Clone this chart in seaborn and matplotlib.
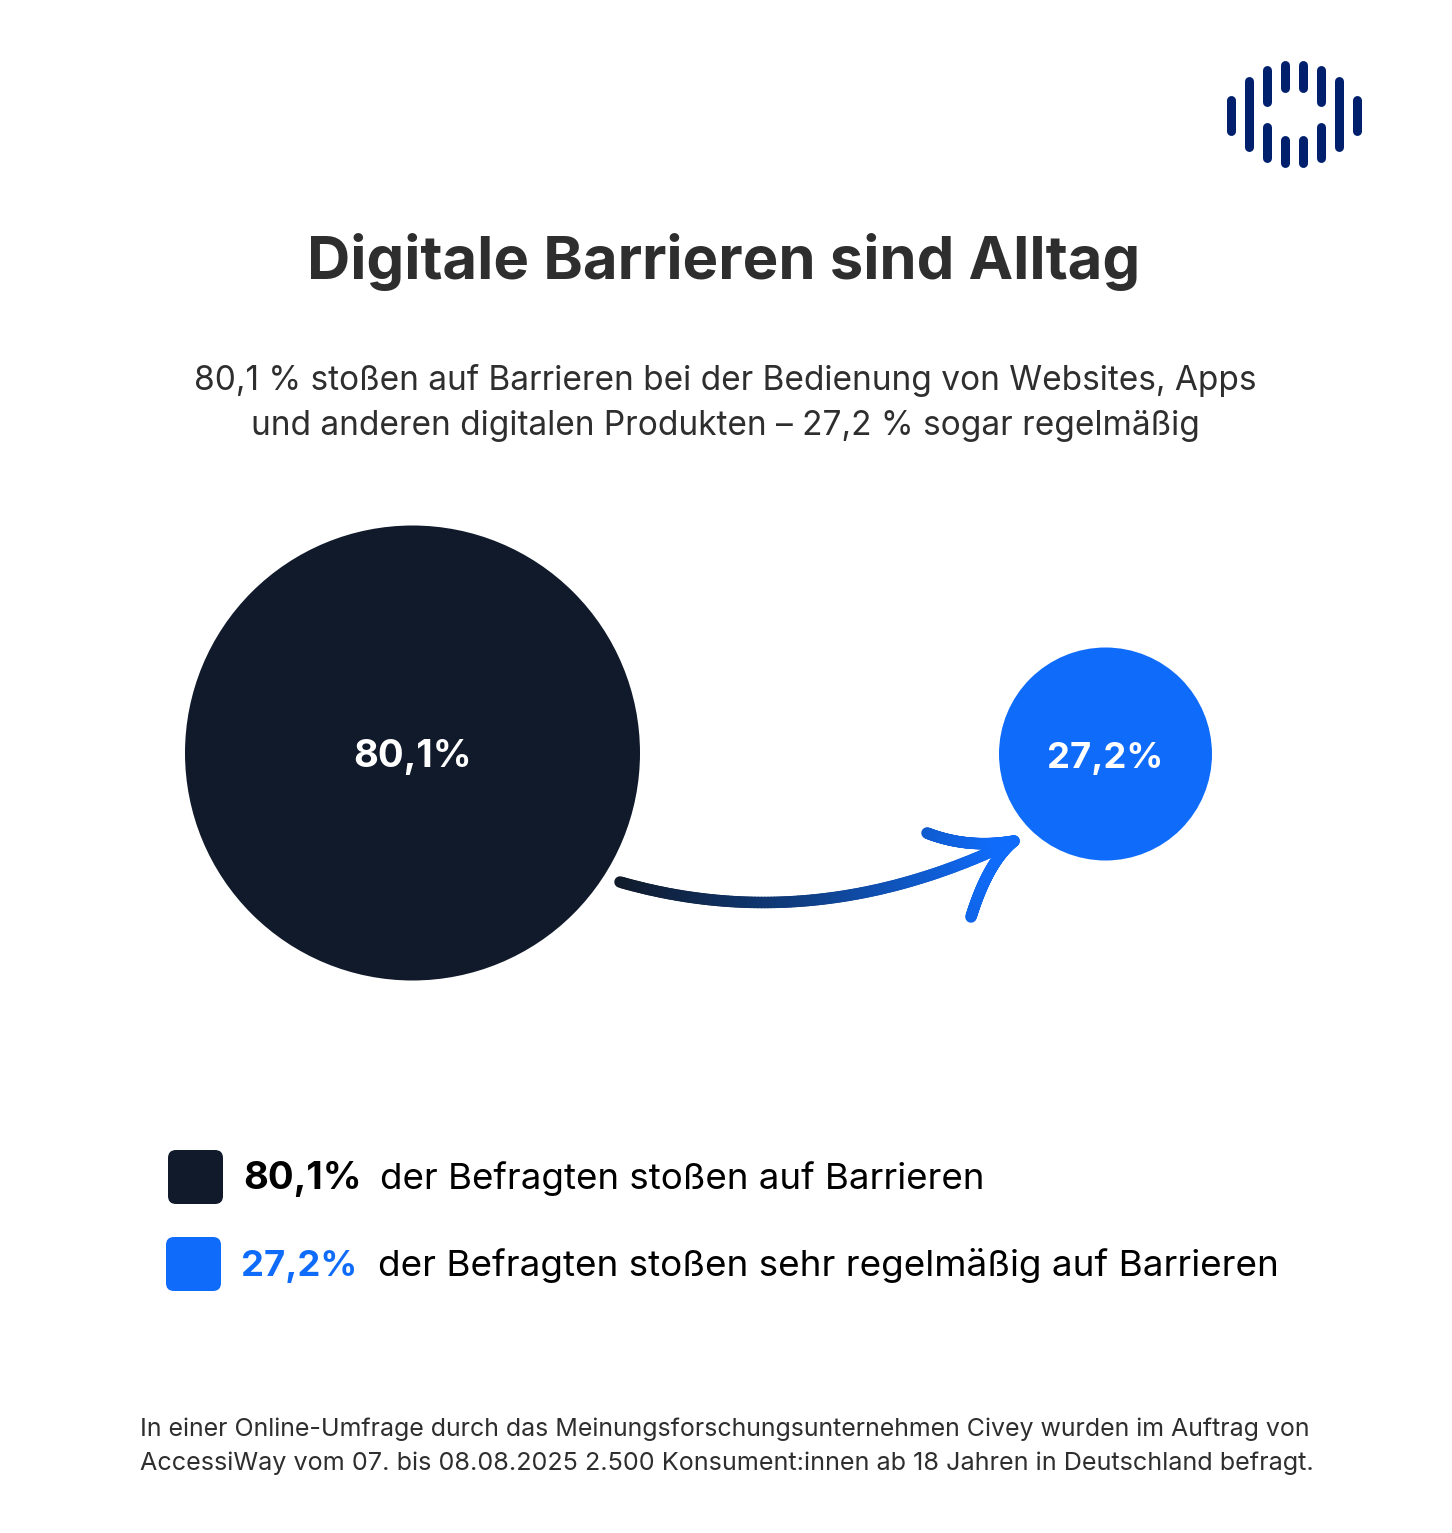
import numpy as np
import pandas as pd
import seaborn as sns
import matplotlib.pyplot as plt
from matplotlib.collections import LineCollection
from matplotlib.colors import LinearSegmentedColormap
from matplotlib.patches import FancyBboxPatch

# chart values
labels = ["80,1%", "27,2%"]
shares = [80.1, 27.2]
legend_texts = ["der Befragten stoßen auf Barrieren",
                "der Befragten stoßen sehr regelmäßig auf Barrieren"]
title = "Digitale Barrieren sind Alltag"
subtitle = ["80,1 % stoßen auf Barrieren bei der Bedienung von Websites, Apps",
            "und anderen digitalen Produkten – 27,2 % sogar regelmäßig"]
footnote = ["In einer Online-Umfrage durch das Meinungsforschungsunternehmen Civey wurden im Auftrag von",
            "AccessiWay vom 07. bis 08.08.2025 2.500 Konsument:innen ab 18 Jahren in Deutschland befragt."]

NAVY = "#101A2A"
BLUE = "#0F6CFB"
LOGO = "#00206E"
TEXT = "#2E2E2E"
PX = 0.72  # one pixel in points at dpi 100
LABEL_SIZES = [27.5, 26.2]
DESC_SIZES = [26.4, 26.5]
FOOT_SIZES = [17.97, 18.1]

sns.set_theme(style="white")
plt.rcParams['font.family'] = ['Inter', 'DejaVu Sans']

fig = plt.figure(figsize=(14.52, 15.33), dpi=100)
ax = fig.add_axes([0, 0, 1, 1])

# circles
df = pd.DataFrame({"label": labels, "share": shares,
                   "x": [412.5, 1105.5], "y": [753, 754], "d": [455, 213]})
df["s"] = (df["d"] * PX) ** 2
sns.scatterplot(data=df, x="x", y="y", hue="label", palette=[NAVY, BLUE],
                size="label", sizes=dict(zip(df["label"], df["s"])),
                linewidth=0, legend=False, ax=ax, zorder=2)
ax.set_xlim(0, 1452)
ax.set_ylim(1533, 0)
ax.axis("off")
for (_, row), size in zip(df.iterrows(), LABEL_SIZES):
    ax.text(row["x"], row["y"] + 14, row["label"], color="white", fontsize=size,
            fontweight="bold", ha="center", va="baseline", zorder=3)


def bezier(p0, p1, p2, n=120):
    t = np.linspace(0, 1, n)[:, None]
    return (1 - t) ** 2 * np.array(p0) + 2 * t * (1 - t) * np.array(p1) + t ** 2 * np.array(p2)


# arrow with a gradient along x
cmap = LinearSegmentedColormap.from_list("arrow", [NAVY, "#0F3F86", BLUE])
curves = [bezier((620, 882), (815, 938), (1014, 841)),
          bezier((927, 833), (968, 849), (1014, 841)),
          bezier((971, 917), (988, 862), (1014, 841))]
for pts in curves:
    segs = np.stack([pts[:-1], pts[1:]], axis=1)
    lc = LineCollection(segs, cmap=cmap, linewidths=11.5 * PX, capstyle="round", zorder=1)
    lc.set_array((pts[:-1, 0] - 620) / (1000 - 620))
    lc.set_clim(0, 1)
    ax.add_collection(lc)

# logo
bar_x = [1230.5, 1248.5, 1266.5, 1284.5, 1302.5, 1320.5, 1338.5, 1356.5]
bar_spans = [[(95, 135)], [(76, 151.5)], [(65, 106.5), (122, 162.5)], [(60, 92.5), (135, 167.5)],
             [(60, 92.5), (135, 167.5)], [(65, 106.5), (122, 162.5)], [(76, 151.5)], [(95, 135)]]
for x, spans in zip(bar_x, bar_spans):
    for top, bottom in spans:
        ax.plot([x, x], [top + 4.5, bottom - 4.5], color=LOGO, lw=9 * PX,
                solid_capstyle="round")

# headings
ax.text(724, 279, title, color=TEXT, fontsize=43.1, fontweight="bold", ha="center", va="baseline")
for y, line in zip([390, 435], subtitle):
    ax.text(725, y, line, color=TEXT, fontsize=24.05, ha="center", va="baseline")

# legend
for i, ((x, y), color) in enumerate(zip([(168, 1150), (166, 1237)], [NAVY, BLUE])):
    ax.add_patch(FancyBboxPatch((x + 8, y + 8), 39, 38, boxstyle="round,pad=8,rounding_size=8",
                                fc=color, ec="none"))
    ax.text(x + 75, y + 39, labels[i], color="black" if color == NAVY else BLUE,
            fontsize=LABEL_SIZES[i], fontweight="bold", ha="left", va="baseline")
    ax.text(x + 212, y + 39, legend_texts[i], color="black", fontsize=DESC_SIZES[i],
            ha="left", va="baseline")

# footnote
for y, line, size in zip([1436, 1470], footnote, FOOT_SIZES):
    ax.text(140, y, line, color=TEXT, fontsize=size, ha="left", va="baseline")

fig.savefig("out.png", dpi=100, facecolor="white")
plt.close(fig)
